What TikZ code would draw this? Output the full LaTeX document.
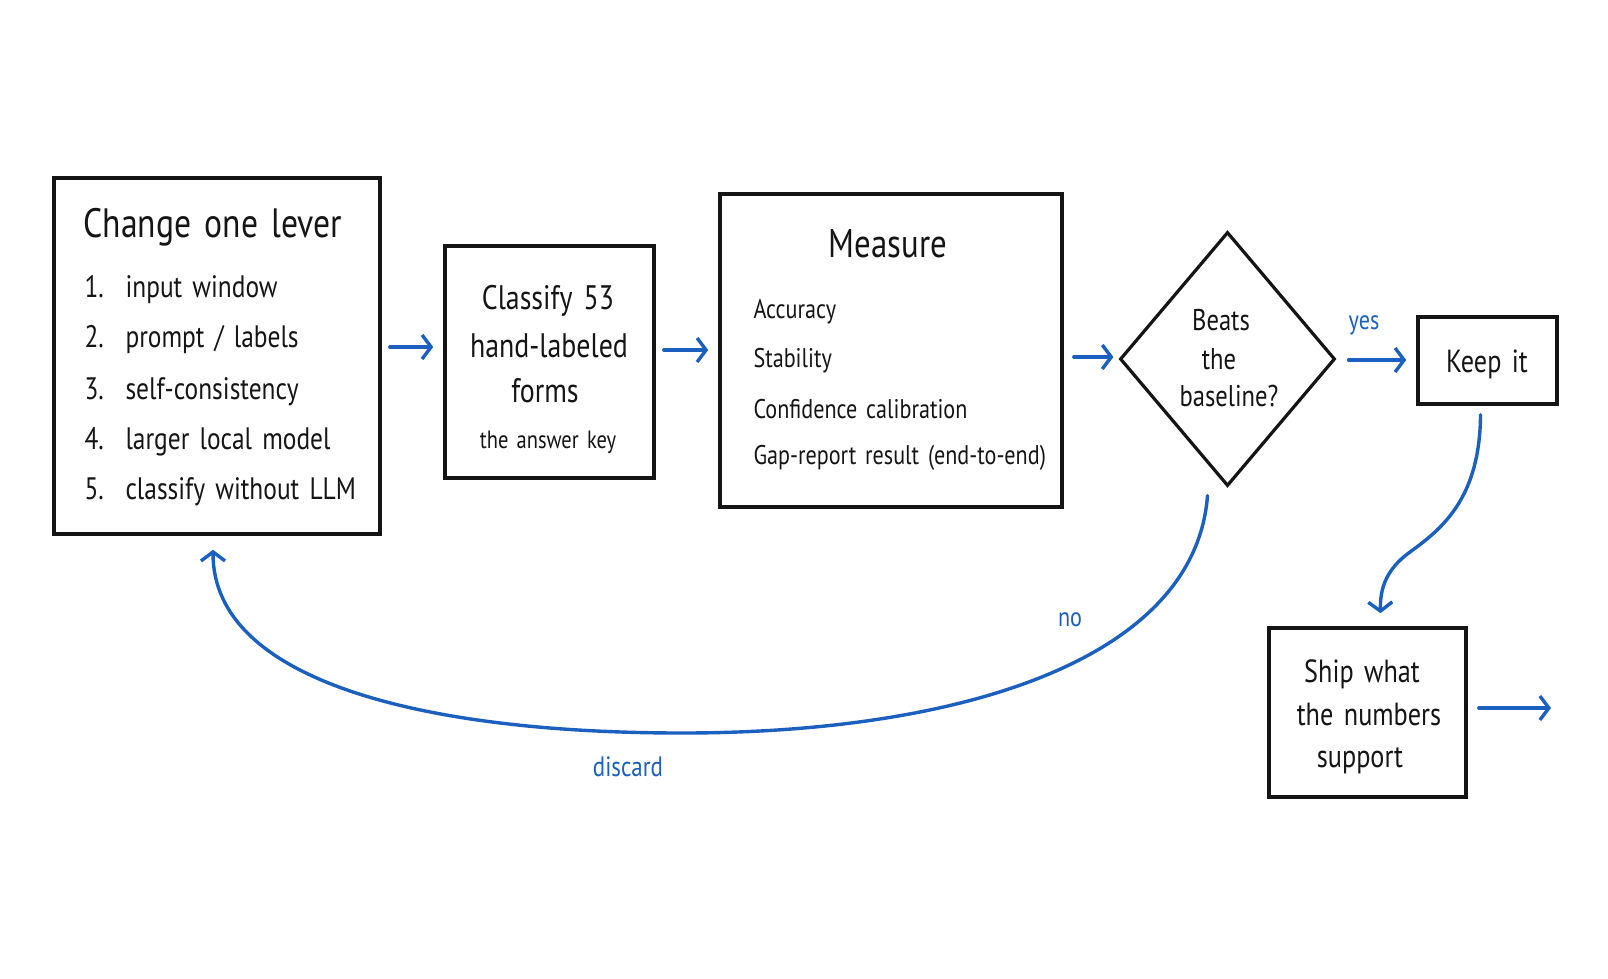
\documentclass[tikz,border=0pt]{standalone}
\usepackage{fontspec}
\setmainfont{PT Sans}[FakeStretch=0.82,WordSpace=1.5]
\usetikzlibrary{arrows.meta,shapes.geometric,calc}
\definecolor{ink}{HTML}{151515}
\definecolor{blu}{HTML}{1B5FBF}
\begin{document}
\begin{tikzpicture}[x=1pt,y=-1pt,
  box/.style={draw=ink,line width=3.6pt,fill=white,inner sep=0pt},
  dia/.style={draw=ink,line width=3.2pt,shape=diamond,inner sep=0pt},
  arr/.style={draw=blu,line width=3.4pt,line cap=round,-{Straight Barb[length=9pt,width=24pt,line width=3.4pt]}},
  lbl/.style={text=blu,font=\fontsize{27}{31}\selectfont},
  tl/.style={text=ink,anchor=mid west},
  tc/.style={text=ink,anchor=mid}]
\fill[white] (0,0) rectangle (1608,978);
\useasboundingbox (0,0) rectangle (1608,978);

% boxes
\node[box,minimum width=326pt,minimum height=356pt] (b1) at (217,356) {};
\node[box,minimum width=209pt,minimum height=232pt] (b2) at (549.5,362) {};
\node[box,minimum width=342pt,minimum height=313pt] (b3) at (891,350.5) {};
\node[dia,minimum width=215pt,minimum height=254pt] (d) at (1227.5,359) {};
\node[box,minimum width=139pt,minimum height=87pt] (k) at (1487.5,360.5) {};
\node[box,minimum width=197pt,minimum height=169pt] (s) at (1367.5,712.5) {};

% box 1 text
\node[tl,font=\fontsize{41}{46}\selectfont] (t1) at (80,235) {Change one lever};
\begin{scope}[every node/.style={tl,font=\fontsize{31}{36}\selectfont}]
\node (n1) at (81,295) {1.}; \node (i1) at (122,295) {input window};
\node (n2) at (81,345) {2.}; \node (i2) at (122,345) {prompt / labels};
\node (n3) at (81,397) {3.}; \node (i3) at (122,397) {self-consistency};
\node (n4) at (81,447) {4.}; \node (i4) at (122,447) {larger local model};
\node (n5) at (81,497) {5.}; \node (i5) at (122,497) {classify without LLM};
\end{scope}

% box 2 text
\begin{scope}[every node/.style={tc,font=\fontsize{34}{38}\selectfont}]
\node (c1) at (548,307) {Classify 53};
\node (c2) at (549,355) {hand-labeled};
\node (c3) at (545,400) {forms};
\end{scope}
\node[tc,font=\fontsize{25}{29}\selectfont] (c4) at (548,446) {the answer key};

% box 3 text
\node[tc,font=\fontsize{40}{45}\selectfont] (m0) at (888,255) {Measure};
\begin{scope}[every node/.style={tl,font=\fontsize{27}{31}\selectfont}]
\node (m1) at (750,316) {Accuracy};
\node (m2) at (750,365) {Stability};
\node (m3) at (750,416) {Confidence calibration};
\node (m4) at (750,462) {Gap-report result (end-to-end)};
\end{scope}

% diamond text
\begin{scope}[every node/.style={tc,font=\fontsize{30}{34}\selectfont}]
\node (dt1) at (1221,328) {Beats};
\node (dt2) at (1219,367) {the};
\node (dt3) at (1229,404) {baseline?};
\end{scope}

% keep / ship text
\node[tc,font=\fontsize{32}{36}\selectfont] (kt) at (1487,370) {Keep it};
\begin{scope}[every node/.style={tc,font=\fontsize{32}{36}\selectfont}]
\node (s1) at (1362,680) {Ship what};
\node (s2) at (1369,723) {the numbers};
\node (s3) at (1360,765) {support};
\end{scope}

% labels
\node[lbl] (yes) at (1364,325) {yes};
\node[lbl] (no) at (1070,620) {no};
\node[lbl,font=\fontsize{28}{32}\selectfont] (disc) at (628,767) {discard};

% connectors
\draw[arr] (b1.east |- 0,347) ++(8,0) -- ($(b2.west |- 0,347)+(-10,0)$);
\draw[arr] (b2.east |- 0,350) ++(8,0) -- ($(b3.west |- 0,350)+(-10,0)$);
\draw[arr] (b3.east |- 0,357) ++(10,0) -- ($(d.west |- 0,357)+(-5,0)$);
\draw[arr] (d.east |- 0,360) ++(12,0) -- ($(k.west |- 0,360)+(-10,0)$);

\coordinate (ls) at ($(d.south)+(-20,8)$);
\coordinate (le) at ($(b1.south)+(-4,14)$);
\draw[arr] (ls) .. controls (1195,660) and (960,733) .. (682,733)
  .. controls (420,733) and (213,680) .. (le);

\coordinate (ks) at ($(k.south)+(-7,9)$);
\coordinate (ke) at ($(s.north)+(13,-13)$);
\draw[arr] (ks) .. controls (1480,500) and (1440,530) .. (1410,552)
  .. controls (1385,570) and (1380,590) .. (ke);

\coordinate (so) at (1551,708);
\draw[arr] ($(s.east |- so)+(11,0)$) -- (so);
\end{tikzpicture}
\end{document}
